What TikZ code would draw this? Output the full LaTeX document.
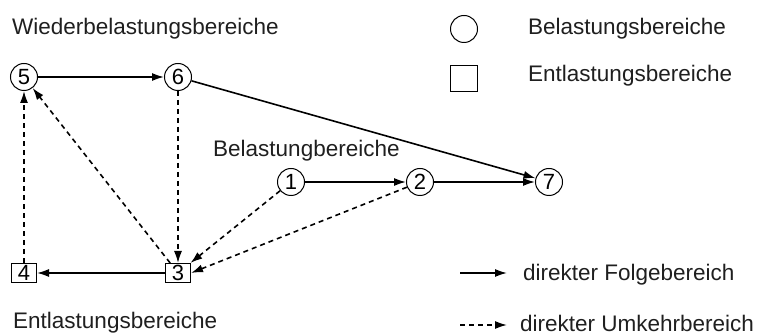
\documentclass[tikz,border=0pt]{standalone}
\usepackage{fontspec}
\setmainfont{Liberation Sans}
\usetikzlibrary{arrows.meta}
\begin{document}
\begin{tikzpicture}[x=1pt,y=-1pt,
  lbl/.style={anchor=base west,inner sep=0pt,font=\fontsize{22.5}{27}\selectfont,text=black!88},
  cnode/.style={circle,draw,line width=1pt,minimum size=27pt,inner sep=0pt,font=\fontsize{22}{24}\selectfont},
  bnode/.style={rectangle,draw,line width=1pt,minimum width=25pt,minimum height=19pt,inner sep=0pt,font=\fontsize{22}{24}\selectfont},
  folge/.style={line width=1.6pt,-{Latex[length=12pt,width=8pt]}},
  umkehr/.style={line width=1.6pt,dash pattern=on 5pt off 4pt,-{Latex[length=12pt,width=8pt]}}]
\useasboundingbox (0,0) rectangle (768,336);
% nodes
\node[cnode] (n5) at (24,77) {5};
\node[cnode] (n6) at (178,77) {6};
\node[cnode] (n1) at (291,182) {1};
\node[cnode] (n2) at (420,182) {2};
\node[cnode] (n7) at (549,182) {7};
\node[bnode] (n4) at (24,273) {4};
\node[bnode] (n3) at (178,273) {3};
% labels
\node[lbl] (t1) at (12,35) {Wiederbelastungsbereiche};
\node[lbl] (t2) at (213,157) {Belastungbereiche};
\node[lbl] (t3) at (13,329) {Entlastungsbereiche};
% edges
\draw[folge] (n5) -- (n6);
\draw[folge] (n6) -- (n7);
\draw[folge] (n1) -- (n2);
\draw[folge] (n2) -- (n7);
\draw[folge] (n3) -- (n4);
\draw[umkehr] (n4) -- (n5);
\draw[umkehr] (n3) -- (n5);
\draw[umkehr] (n6) -- (n3);
\draw[umkehr] (n1) -- (n3);
\draw[umkehr] (n2) -- (n3.east);
% legend
\node[circle,draw,line width=1pt,minimum size=27pt,inner sep=0pt] (lc) at (464,29) {};
\node[rectangle,draw,line width=1pt,minimum width=27pt,minimum height=26pt,inner sep=0pt] (lb) at (464,79) {};
\node[lbl] (l1) at (528,35) {Belastungsbereiche};
\node[lbl] (l2) at (528,82) {Entlastungsbereiche};
\coordinate (fa) at (460,273);
\coordinate (fb) at (507,273);
\coordinate (ua) at (460,325);
\coordinate (ub) at (507,325);
\draw[folge] (fa) -- (fb);
\draw[umkehr] (ua) -- (ub);
\node[lbl] (l3) at (523,281) {direkter Folgebereich};
\node[lbl] (l4) at (520,332) {direkter Umkehrbereich};
\end{tikzpicture}
\end{document}
